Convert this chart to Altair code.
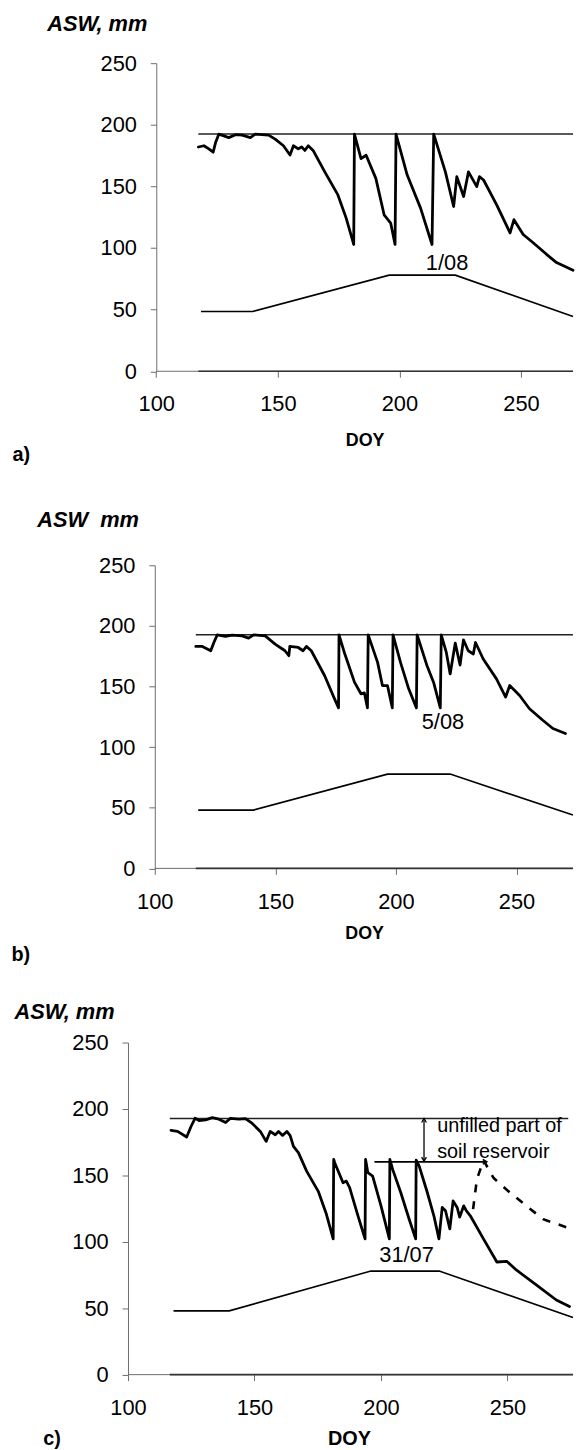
import altair as alt
import pandas as pd

FONT = "Liberation Sans"
AX = "#6e6e6e"

x_ticks = [100, 150, 200, 250]
y_ticks = [0, 50, 100, 150, 200, 250]

# ---------------- panel a ----------------
a_doy = [117.3, 119.6, 121.6, 123.4, 124.4, 125.7, 127.8, 129.8, 132.6, 135.3, 138.7, 140.7, 146.2, 148.9,
         152.3, 155.0, 156.4, 158.4, 159.8, 161.1, 162.5, 164.5, 169.3, 174.7, 178.1, 181.2, 181.5, 184.2,
         186.3, 190.3, 193.7, 196.4, 198.2, 198.6, 203.2, 208.7, 213.4, 214.1, 218.9, 222.3, 223.6, 226.4,
         228.4, 231.8, 232.9, 234.6, 240.0, 245.5, 247.1, 250.9, 255.0, 260.5, 264.6, 271.4]
a_asw = [182, 183, 180.5, 177.8, 185.7, 192.4, 191, 189.6, 192, 191.6, 189.6, 192.4, 191.6, 188.4,
         183, 175.5, 183, 180.5, 182, 179.2, 183, 179.2, 161.8, 143.1, 124.3, 102.9, 192.5, 172.5,
         175.3, 156.5, 127, 120.3, 102.9, 192.5, 159.2, 132.4, 102.9, 192.5, 161.8, 133.7, 157.9, 141.8,
         161.8, 149.8, 157.9, 155.2, 135.1, 112.3, 123, 111, 104.3, 94.9, 88.2, 82]
a_fc_doy = [117.3, 271.4]
a_fc_asw = [192.5, 192.5]
a_low_doy = [118.4, 139.6, 195.8, 223.0, 271.4]
a_low_asw = [48.5, 48.5, 78, 78, 44.5]
a_note = ["1/08"]
a_note_doy = [219.6]
a_note_asw = [88.2]

# ---------------- panel b ----------------
b_doy = [117.0, 119.7, 121.8, 123.2, 124.5, 125.9, 129.3, 132.1, 136.2, 138.9, 141.0, 145.8, 149.9, 154.0,
         155.6, 156.0, 159.5, 161.5, 162.9, 164.9, 170.4, 174.5, 176.2, 176.4, 178.6, 182.8, 185.5, 186.9,
         188.2, 188.5, 192.4, 194.4, 196.5, 198.5, 198.8, 201.9, 205.3, 208.5, 208.8, 212.9, 215.6, 218.4,
         218.8, 220.9, 222.5, 224.6, 226.6, 228.0, 230.0, 232.1, 233.0, 236.2, 241.7, 245.5, 247.2, 251.3,
         255.4, 260.9, 265.1, 270.3]
b_asw = [183.1, 183.1, 181, 179.5, 186.3, 192.6, 191.3, 192.3, 191.8, 189.9, 192.6, 191.8, 185, 179.5,
         175.4, 183.1, 182.2, 179.5, 183.1, 179.5, 159.1, 140, 132.4, 192.6, 178.1, 153.6, 144, 144.8,
         132.4, 192.6, 169.9, 150.8, 150.8, 132.4, 192.6, 169.9, 148.1, 132.4, 192.6, 167.1, 153.6, 132.4,
         192.6, 178.1, 160.4, 185.8, 167.7, 188.5, 179.5, 176.8, 186.3, 172.7, 156.3, 141.3, 150.8, 142.6,
         131.7, 122.2, 115.4, 111.3]
b_fc_doy = [117.0, 273.4]
b_fc_asw = [192.7, 192.7]
b_low_doy = [118.0, 141.0, 196.5, 222.5, 273.4]
b_low_asw = [48.1, 48.1, 77.8, 77.8, 44.0]
b_note = ["5/08"]
b_note_doy = [219.5]
b_note_asw = [121.0]

# ---------------- panel c ----------------
c_doy = [117.0, 119.6, 123.2, 124.9, 126.5, 128.1, 130.7, 133.3, 135.9, 138.6, 140.5, 143.8, 146.4, 149.0,
         152.3, 154.6, 156.2, 158.2, 159.5, 161.1, 162.8, 164.1, 165.4, 167.4, 170.6, 175.2, 178.4, 181.1,
         181.3, 181.7, 185.0, 186.3, 187.6, 190.9, 193.7, 193.9, 194.8, 196.7, 200.0, 203.3, 203.5, 204.6,
         207.8, 211.1, 213.7, 213.9, 215.1, 218.3, 220.9, 222.9, 224.2, 225.5, 227.2, 228.5, 230.1, 231.1,
         232.7, 233.7, 235.3, 240.5, 245.8, 249.7, 253.6, 261.5, 269.3, 274.5]
c_asw = [183.8, 183.1, 178.9, 186.8, 193, 191.3, 191.8, 193.5, 192.3, 189.8, 193, 192.3, 192.8, 189.3,
         183.1, 175.6, 183.1, 180.6, 183.1, 180.1, 183.1, 179.9, 171.9, 166.9, 153.2, 138, 120.9, 102.2,
         162, 159.5, 144.5, 145.7, 140.8, 119.6, 102.2, 162, 152, 149.5, 127.1, 102.2, 162, 154.5,
         137.1, 117.2, 102.2, 161.4, 157, 137.1, 119.6, 102.2, 125.9, 123.4, 109.7, 130.8, 125.9, 118.6,
         127.1, 123.4, 119.6, 102.2, 84.8, 85.3, 78.6, 67.4, 56.2, 51.3]
c_dash_doy = [236.4, 237.9, 240.5, 244.5, 251.0, 257.5, 264.1, 273.2]
c_dash_asw = [124.6, 147.0, 161.5, 148.0, 137.0, 127.0, 117.0, 111.0]
c_fc_doy = [116.5, 274.0]
c_fc_asw = [192.8, 192.8]
c_low_doy = [118.0, 140.0, 196.0, 223.0, 275.9]
c_low_asw = [48.0, 48.0, 78.0, 78.0, 43.0]
c_note = ["31/07", "unfilled part of", "soil reservoir"]
c_note_doy = [210.1, 222.2, 222.2]
c_note_asw = [89.8, 183.0, 163.2]
# arrows
v_arrow_doy = [217.0]
v_arrow_top = [192.8]
v_arrow_bot = [160.7]
h_arrow_from = [197.4]
h_arrow_to = [241.8]
h_arrow_asw = [160.2]


def line_df(xs, ys):
    return pd.DataFrame({"doy": xs, "asw": ys, "i": list(range(len(xs)))})


def panel(doy, asw, fc_doy, fc_asw, low_doy, low_asw, notes, xdom, yoff, W, H, T, B,
          title, title_px, lab, lab_px, doy_px, doy_size, lab_size, extra=None):
    X = alt.X("doy:Q", scale=alt.Scale(domain=xdom, nice=False, zero=False),
              axis=alt.Axis(values=x_ticks, domain=False, grid=False, tickSize=6, tickColor=AX,
                            labelFont=FONT, labelFontSize=22, labelColor="black", labelPadding=17,
                            labelFlush=False, labelOverlap=False, title=None))
    Y = alt.Y("asw:Q", scale=alt.Scale(domain=[0, 250], nice=False),
              axis=alt.Axis(values=y_ticks, offset=yoff, grid=False, domainColor=AX, tickColor=AX,
                            tickSize=6, labelFont=FONT, labelFontSize=22, labelColor="black",
                            labelPadding=14, title=None))
    one = pd.DataFrame({"k": [0]})
    layers = []
    # spacer fixing the panel's extents
    layers.append(alt.Chart(one).mark_rule(strokeOpacity=0, strokeWidth=0.01).encode(
        x=alt.value(-128.5), x2=alt.value(0), y=alt.value(-T), y2=alt.value(H + B)))
    # x axis line
    z = pd.DataFrame({"doy": [100.0], "doy2": [xdom[1]], "asw": [0.0]})
    layers.append(alt.Chart(z).mark_rule(color=AX, strokeWidth=1).encode(x=X, x2="doy2", y=Y))
    z2 = line_df([fc_doy[0], xdom[1]], [0.0, 0.0])
    layers.append(alt.Chart(z2).mark_line(color="#333333", strokeWidth=1.6).encode(x=X, y=Y, order="i:Q"))
    # field capacity
    layers.append(alt.Chart(line_df(fc_doy, fc_asw)).mark_line(color="#222222", strokeWidth=1.5)
                  .encode(x=X, y=Y, order="i:Q"))
    # lower limit
    layers.append(alt.Chart(line_df(low_doy, low_asw)).mark_line(color="black", strokeWidth=1.7)
                  .encode(x=X, y=Y, order="i:Q"))
    if extra:
        layers += extra(X, Y)
    # main ASW curve
    layers.append(alt.Chart(line_df(doy, asw)).mark_line(color="black", strokeWidth=2.8,
                                                         strokeJoin="round", strokeCap="round")
                  .encode(x=X, y=Y, order="i:Q"))
    # numeric note(s)
    n_doy, n_asw, n_lab = notes
    first = pd.DataFrame({"doy": n_doy[:1], "asw": n_asw[:1], "label": n_lab[:1]})
    layers.append(alt.Chart(first).mark_text(font=FONT, fontSize=22, color="black", align="center",
                                             baseline="middle").encode(x=X, y=Y, text="label:N"))
    if len(n_lab) > 1:
        rest = pd.DataFrame({"doy": n_doy[1:], "asw": n_asw[1:], "label": n_lab[1:]})
        layers.append(alt.Chart(rest).mark_text(font=FONT, fontSize=20, color="black", align="left",
                                                baseline="alphabetic").encode(x=X, y=Y, text="label:N"))
    # texts
    layers.append(alt.Chart(one).mark_text(font=FONT, fontSize=22, fontWeight="bold", fontStyle="italic",
                                           align="left", baseline="middle", color="black").encode(
        x=alt.value(title_px[0]), y=alt.value(title_px[1]), text=alt.value(title)))
    layers.append(alt.Chart(one).mark_text(font=FONT, fontSize=doy_size, fontWeight="bold",
                                           align="center", baseline="middle", color="black").encode(
        x=alt.value(doy_px[0]), y=alt.value(doy_px[1]), text=alt.value("DOY")))
    layers.append(alt.Chart(one).mark_text(font=FONT, fontSize=lab_size, fontWeight="bold",
                                           align="left", baseline="middle", color="black").encode(
        x=alt.value(lab_px[0]), y=alt.value(lab_px[1]), text=alt.value(lab)))
    return alt.layer(*layers).properties(width=W, height=H)


def extra_c(X, Y):
    out = []
    dash = line_df(c_dash_doy, c_dash_asw)
    out.append(alt.Chart(dash).mark_line(color="black", strokeWidth=2.6, strokeDash=[8, 9])
               .encode(x=X, y=Y, order="i:Q"))
    va = pd.DataFrame({"doy": v_arrow_doy, "asw": v_arrow_top, "asw2": v_arrow_bot})
    out.append(alt.Chart(va).mark_rule(color="black", strokeWidth=1.3).encode(x=X, y=Y, y2="asw2"))
    ha = pd.DataFrame({"doy": h_arrow_from, "doy2": h_arrow_to, "asw": h_arrow_asw})
    out.append(alt.Chart(ha).mark_rule(color="black", strokeWidth=1.6).encode(x=X, x2="doy2", y=Y))
    up = pd.DataFrame({"doy": v_arrow_doy, "asw": v_arrow_top})
    out.append(alt.Chart(up).mark_point(shape="M-0.6,1L0,0L0.6,1", filled=False, color="black",
                                        strokeWidth=1.3, size=64, opacity=1).encode(x=X, y=Y))
    dn = pd.DataFrame({"doy": v_arrow_doy, "asw": v_arrow_bot})
    out.append(alt.Chart(dn).mark_point(shape="M-0.6,-1L0,0L0.6,-1", filled=False, color="black",
                                        strokeWidth=1.3, size=64, opacity=1).encode(x=X, y=Y))
    rt = pd.DataFrame({"doy": h_arrow_to, "asw": h_arrow_asw})
    out.append(alt.Chart(rt).mark_point(shape="M-1,-0.6L0,0L-1,0.6", filled=False, color="black",
                                        strokeWidth=1.5, size=64, opacity=1).encode(x=X, y=Y))
    return out


W = 448.5
pa = panel(a_doy, a_asw, a_fc_doy, a_fc_asw, a_low_doy, a_low_asw, (a_note_doy, a_note_asw, a_note),
           [88.37, 271.4], -28.5, W, 310.5, 57.3, 100,
           "ASW, mm", (-81.5, -39.3), "a)", (-116.5, 395.2), (239, 381), 18, 20)
pb = panel(b_doy, b_asw, b_fc_doy, b_fc_asw, b_low_doy, b_low_asw, (b_note_doy, b_note_asw, b_note),
           [88.89, 273.45], -27.0, W, 305.5, 94.5, 100,
           "ASW\u00a0 mm", (-91.5, -45.6), "b)", (-117.5, 393.0), (238.5, 372.0), 18, 20)
pc = panel(c_doy, c_asw, c_fc_doy, c_fc_asw, c_low_doy, c_low_asw, (c_note_doy, c_note_asw, c_note),
           [100.0, 275.9], 0, W, 334.7, 74.5, 73,
           "ASW, mm", (-114.5, -30.6), "c)", (-85.5, 399.4), (223.2, 399.4), 20, 20, extra=extra_c)

chart = alt.vconcat(pa, pb, pc, spacing=0).properties(
    padding={"left": 0, "top": 0, "right": 0, "bottom": 0}
).configure_view(stroke=None)

chart.save("out.html", embed_options={"renderer": "svg", "actions": False})
